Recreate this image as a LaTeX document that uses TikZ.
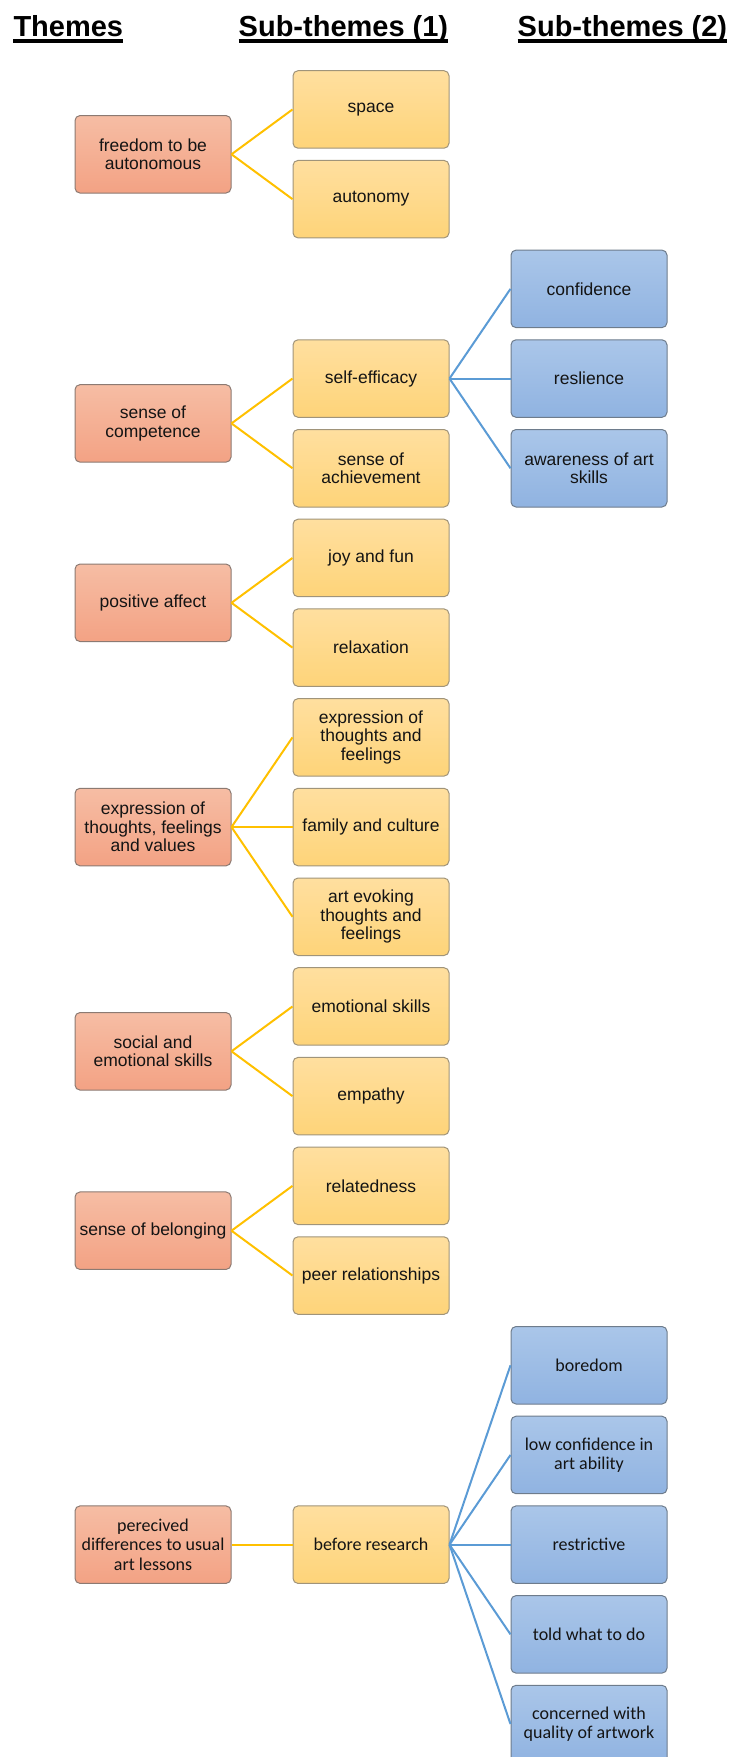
\documentclass[tikz,border=0pt]{standalone}
\usepackage{fontspec}
\setmainfont{Liberation Sans}
\newfontfamily\califnt{Carlito}
\usetikzlibrary{calc}

\definecolor{redtop}{HTML}{F6BDA4}
\definecolor{redbot}{HTML}{F3A284}
\definecolor{redline}{HTML}{8C7A72}
\definecolor{yeltop}{HTML}{FFDF9F}
\definecolor{yelbot}{HTML}{FED479}
\definecolor{yelline}{HTML}{A0947A}
\definecolor{blutop}{HTML}{AAC6E9}
\definecolor{blubot}{HTML}{90B3E1}
\definecolor{bluline}{HTML}{6E7C8C}
\definecolor{linkyel}{HTML}{FFC000}
\definecolor{linkblu}{HTML}{5B9BD5}
\definecolor{txt}{HTML}{141414}

\tikzset{
  box/.style={rounded corners=5pt, line width=1pt, minimum width=156pt,
    minimum height=77.5pt, inner sep=0pt, align=center, text=txt,
    shading=axis, shading angle=0,
    font=\fontsize{17.5}{18.5}\selectfont},
  cbox/.style={font=\califnt\fontsize{18}{19.5}\selectfont},
  themebox/.style={box, draw=redline, top color=redtop, bottom color=redbot},
  subbox/.style={box, draw=yelline, top color=yeltop, bottom color=yelbot},
  subsubbox/.style={box, draw=bluline, top color=blutop, bottom color=blubot},
  linkA/.style={draw=linkyel, line width=2pt},
  linkB/.style={draw=linkblu, line width=2pt},
  head/.style={anchor=base west, inner sep=0pt, font=\bfseries\fontsize{29}{32}\selectfont},
  uline/.style={line width=3.2pt}
}

\begin{document}
\begin{tikzpicture}[x=1pt, y=-1pt]
  \useasboundingbox (0,0) rectangle (732,1757);
  \clip (0,0) rectangle (732,1757);

  % column headings
  \node[head] (h1) at (13.3,36) {Themes};
  \node[head] (h2) at (238.5,36) {Sub-themes (1)};
  \node[head] (h3) at (517.5,36) {Sub-themes (2)};
  \foreach \h in {h1,h2,h3}
    \draw[uline] ($(\h.base west)+(0,5)$) -- ($(\h.base east)+(0,5)$);

  % themes (column 1)
  \node[themebox] (t1) at (153,{109.45+89.7*0.5}) {freedom to be\\autonomous};
  \node[themebox] (t2) at (153,{109.45+89.7*3.5}) {sense of\\competence};
  \node[themebox] (t3) at (153,{109.45+89.7*5.5}) {positive affect};
  \node[themebox] (t4) at (153,{109.45+89.7*8}) {expression of\\thoughts, feelings\\and values};
  \node[themebox] (t5) at (153,{109.45+89.7*10.5}) {social and\\emotional skills};
  \node[themebox] (t6) at (153,{109.45+89.7*12.5}) {sense of belonging};
  \node[themebox, cbox] (t7) at (153,{109.45+89.7*16}) {perecived\\differences to usual\\art lessons};

  % sub-themes (column 2)
  \node[subbox] (s1) at (371,{109.45+89.7*0}) {space};
  \node[subbox] (s2) at (371,{109.45+89.7*1}) {autonomy};
  \node[subbox] (s3) at (371,{109.45+89.7*3}) {self-efficacy};
  \node[subbox] (s4) at (371,{109.45+89.7*4}) {sense of\\achievement};
  \node[subbox] (s5) at (371,{109.45+89.7*5}) {joy and fun};
  \node[subbox] (s6) at (371,{109.45+89.7*6}) {relaxation};
  \node[subbox] (s7) at (371,{109.45+89.7*7}) {expression of\\thoughts and\\feelings};
  \node[subbox] (s8) at (371,{109.45+89.7*8}) {family and culture};
  \node[subbox] (s9) at (371,{109.45+89.7*9}) {art evoking\\thoughts and\\feelings};
  \node[subbox] (s10) at (371,{109.45+89.7*10}) {emotional skills};
  \node[subbox] (s11) at (371,{109.45+89.7*11}) {empathy};
  \node[subbox] (s12) at (371,{109.45+89.7*12}) {relatedness};
  \node[subbox] (s13) at (371,{109.45+89.7*13}) {peer relationships};
  \node[subbox, cbox] (s14) at (371,{109.45+89.7*16}) {before research};

  % sub-themes (column 3)
  \node[subsubbox] (b1) at (589,{109.45+89.7*2}) {confidence};
  \node[subsubbox] (b2) at (589,{109.45+89.7*3}) {reslience};
  \node[subsubbox] (b3) at (589,{109.45+89.7*4}) {awareness of art\\skills};
  \node[subsubbox, cbox] (b4) at (589,{109.45+89.7*14}) {boredom};
  \node[subsubbox, cbox] (b5) at (589,{109.45+89.7*15}) {low confidence in\\art ability};
  \node[subsubbox, cbox] (b6) at (589,{109.45+89.7*16}) {restrictive};
  \node[subsubbox, cbox] (b7) at (589,{109.45+89.7*17}) {told what to do};
  \node[subsubbox, cbox] (b8) at (589,{109.45+89.7*18}) {concerned with\\quality of artwork};

  % theme -> sub-theme links
  \foreach \a/\b in {t1/s1,t1/s2,t2/s3,t2/s4,t3/s5,t3/s6,t4/s7,t4/s8,t4/s9,
                     t5/s10,t5/s11,t6/s12,t6/s13,t7/s14}
    \draw[linkA] (\a.east) -- (\b.west);

  % sub-theme -> second-level links
  \foreach \a/\b in {s3/b1,s3/b2,s3/b3,s14/b4,s14/b5,s14/b6,s14/b7,s14/b8}
    \draw[linkB] (\a.east) -- (\b.west);
\end{tikzpicture}
\end{document}
